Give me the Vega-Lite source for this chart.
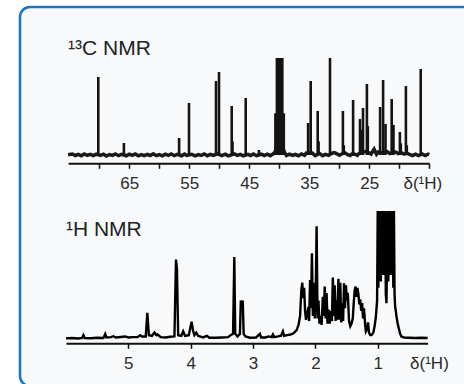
{
  "$schema": "https://vega.github.io/schema/vega-lite/v6.json",
  "autosize": {"type": "none"},
  "width": 455,
  "height": 379,
  "padding": {"left": 20, "top": 7, "right": 0, "bottom": 0},
  "background": "#ffffff",
  "config": {
    "font": "Liberation Sans",
    "view": {"fill": "#f7f9fb", "stroke": "#1a75c6", "strokeWidth": 2.5, "cornerRadius": 10},
    "axis": {
      "grid": false,
      "labelFont": "Liberation Sans",
      "labelFontSize": 17,
      "labelColor": "#2a2a2a",
      "labelBaseline": "alphabetic",
      "labelPadding": 20,
      "labelFlush": false,
      "labelOverlap": false,
      "tickSize": 5,
      "tickWidth": 1.5,
      "tickColor": "#111111",
      "domainColor": "#111111",
      "domainWidth": 2,
      "titleFont": "Liberation Sans",
      "titleFontSize": 17,
      "titleFontWeight": "normal",
      "titleColor": "#2a2a2a",
      "titleAlign": "right",
      "titleBaseline": "alphabetic",
      "titleAngle": 0
    }
  },
  "layer": [
    {
      "encoding": {
        "x": {
          "field": "ppm", "type": "quantitative",
          "scale": {"domain": [15, 75.2], "range": [409.3, 48.1], "nice": false, "zero": false},
          "axis": {
            "orient": "bottom", "offset": -222.7,
            "values": [70, 65, 60, 55, 50, 45, 40, 35, 30, 25, 20, 15],
            "labelExpr": "indexof([65, 55, 45, 35, 25], datum.value) >= 0 ? datum.label : ''",
            "title": "δ(¹H)", "titleX": 421.7, "titleY": 25
          }
        },
        "y": {
          "field": "v", "type": "quantitative",
          "scale": {"domain": [0, 100], "range": [148, 51], "nice": false, "zero": false},
          "axis": null
        }
      },
      "layer": [
        {
          "data": {"values": [
            {"ppm": 75.2, "v": 0.3}, {"ppm": 74.5, "v": 1.0}, {"ppm": 74, "v": -0.5}, {"ppm": 73.5, "v": 0.7},
            {"ppm": 73, "v": -0.8}, {"ppm": 72.5, "v": 1.1}, {"ppm": 72, "v": -0.3}, {"ppm": 71.5, "v": 0.6},
            {"ppm": 71, "v": -0.7}, {"ppm": 70.5, "v": 0.9}, {"ppm": 69.8, "v": -0.5}, {"ppm": 69.3, "v": 0.8},
            {"ppm": 68.8, "v": -1.0}, {"ppm": 68.3, "v": 0.5}, {"ppm": 67.8, "v": -0.4}, {"ppm": 67.3, "v": 1.0},
            {"ppm": 66.8, "v": -0.7}, {"ppm": 66.3, "v": 0.6}, {"ppm": 65.5, "v": -0.8}, {"ppm": 65, "v": 0.8},
            {"ppm": 64.5, "v": -0.4}, {"ppm": 64, "v": 1.1}, {"ppm": 63.5, "v": -0.8}, {"ppm": 63, "v": 0.5},
            {"ppm": 62.5, "v": -0.6}, {"ppm": 62, "v": 0.7}, {"ppm": 61.5, "v": -0.5}, {"ppm": 61, "v": 1.2},
            {"ppm": 60.5, "v": -0.7}, {"ppm": 60, "v": 0.4}, {"ppm": 59.5, "v": -0.9}, {"ppm": 59, "v": 0.8},
            {"ppm": 58.5, "v": -0.4}, {"ppm": 58, "v": 1.0}, {"ppm": 57.5, "v": -0.7}, {"ppm": 57, "v": 0.6},
            {"ppm": 56.3, "v": -0.8}, {"ppm": 55.8, "v": 0.9}, {"ppm": 55.4, "v": -0.5}, {"ppm": 54.6, "v": 0.7},
            {"ppm": 54, "v": -0.8}, {"ppm": 53.5, "v": 0.5}, {"ppm": 53, "v": -0.4}, {"ppm": 52.5, "v": 1.0},
            {"ppm": 52, "v": -0.7}, {"ppm": 51.5, "v": 0.7}, {"ppm": 51, "v": -0.5}, {"ppm": 50.3, "v": 1.1},
            {"ppm": 49.6, "v": -0.6}, {"ppm": 49, "v": 0.8}, {"ppm": 48.5, "v": -0.9}, {"ppm": 47.5, "v": 1.1},
            {"ppm": 47, "v": -0.4}, {"ppm": 46.5, "v": 0.7}, {"ppm": 46, "v": -0.8}, {"ppm": 45.2, "v": 0.6},
            {"ppm": 44.8, "v": -0.5}, {"ppm": 44.3, "v": 1.0}, {"ppm": 43.8, "v": -0.7}, {"ppm": 43, "v": 0.8},
            {"ppm": 42.5, "v": -0.5}, {"ppm": 42, "v": 0.9}, {"ppm": 41.5, "v": -0.7}, {"ppm": 41, "v": 1.2},
            {"ppm": 40.7, "v": 3}, {"ppm": 40.5, "v": 7}, {"ppm": 39.4, "v": 7}, {"ppm": 39.1, "v": 2.5},
            {"ppm": 38.8, "v": -0.6}, {"ppm": 38.3, "v": 0.8}, {"ppm": 37.8, "v": -0.5}, {"ppm": 37.3, "v": 0.7},
            {"ppm": 36.8, "v": -0.8}, {"ppm": 36.3, "v": 1.0}, {"ppm": 35.8, "v": -0.4}, {"ppm": 35.5, "v": 2.0},
            {"ppm": 34.5, "v": 2.0}, {"ppm": 34, "v": -0.6}, {"ppm": 33.3, "v": 1.6}, {"ppm": 32.8, "v": -0.7},
            {"ppm": 32.3, "v": 0.7}, {"ppm": 31.8, "v": -0.4}, {"ppm": 31.2, "v": 1.8}, {"ppm": 30.8, "v": 2.4},
            {"ppm": 30.4, "v": 1.2}, {"ppm": 30, "v": -0.3}, {"ppm": 29.6, "v": 1.0}, {"ppm": 29.1, "v": 2.4},
            {"ppm": 28.6, "v": 0.3}, {"ppm": 28.2, "v": -0.6}, {"ppm": 27.9, "v": 1.0}, {"ppm": 27.4, "v": 0.8},
            {"ppm": 27, "v": -0.4}, {"ppm": 26.8, "v": 1.2}, {"ppm": 26.3, "v": 2.5}, {"ppm": 25.7, "v": 3.5},
            {"ppm": 25.1, "v": 2.5}, {"ppm": 24.7, "v": 1.0}, {"ppm": 24.2, "v": 6}, {"ppm": 23.8, "v": 0.7},
            {"ppm": 23.5, "v": 3.0}, {"ppm": 22.9, "v": 2.0}, {"ppm": 22.5, "v": 2.5}, {"ppm": 22, "v": 3.5},
            {"ppm": 21.6, "v": 1.5}, {"ppm": 21.1, "v": 2.5}, {"ppm": 20.6, "v": 3.0}, {"ppm": 20.2, "v": 1.5},
            {"ppm": 19.7, "v": 2.5}, {"ppm": 19.2, "v": 1.0}, {"ppm": 18.8, "v": 2.0}, {"ppm": 18.3, "v": 0.6},
            {"ppm": 17.8, "v": -0.7}, {"ppm": 17.3, "v": 0.9}, {"ppm": 16.8, "v": -0.5}, {"ppm": 16.2, "v": 1.1},
            {"ppm": 15.7, "v": -0.6}, {"ppm": 15.2, "v": 0.8}, {"ppm": 15, "v": 0.3}
          ]},
          "mark": {"type": "line", "color": "#1a1a1a", "strokeWidth": 3.5, "clip": false}
        },
        {
          "data": {"values": [
            {"ppm": 70.17, "v": 80.4}, {"ppm": 65.9, "v": 12.4}, {"ppm": 56.7, "v": 17.5}, {"ppm": 55.05, "v": 53.6},
            {"ppm": 50.55, "v": 76.3}, {"ppm": 50.05, "v": 85.6}, {"ppm": 47.93, "v": 50.5}, {"ppm": 47.8, "v": 14},
            {"ppm": 45.6, "v": 58.8}, {"ppm": 43.4, "v": 5.2}, {"ppm": 40.65, "v": 43}, {"ppm": 40.4, "v": 100},
            {"ppm": 40.25, "v": 100}, {"ppm": 40.1, "v": 100}, {"ppm": 39.95, "v": 100}, {"ppm": 39.8, "v": 100},
            {"ppm": 39.65, "v": 100}, {"ppm": 39.5, "v": 100}, {"ppm": 39.25, "v": 43}, {"ppm": 35.2, "v": 33},
            {"ppm": 34.77, "v": 76.3}, {"ppm": 33.6, "v": 45.4}, {"ppm": 33.45, "v": 14}, {"ppm": 31.55, "v": 100},
            {"ppm": 29.4, "v": 45.4}, {"ppm": 29.25, "v": 10}, {"ppm": 27.7, "v": 56.7}, {"ppm": 26.55, "v": 37.1},
            {"ppm": 26.3, "v": 26}, {"ppm": 26.05, "v": 48.5}, {"ppm": 25.4, "v": 73.2}, {"ppm": 25.25, "v": 30},
            {"ppm": 23.2, "v": 49.5}, {"ppm": 22.7, "v": 77.3}, {"ppm": 22.3, "v": 32}, {"ppm": 21.27, "v": 57.7},
            {"ppm": 20.97, "v": 31}, {"ppm": 19.9, "v": 23.7}, {"ppm": 19.75, "v": 12}, {"ppm": 18.9, "v": 71.1},
            {"ppm": 18.75, "v": 10}, {"ppm": 16.43, "v": 88.7}
          ]},
          "mark": {"type": "rule", "color": "#141414", "strokeWidth": 2.6, "clip": false},
          "encoding": {"y2": {"datum": 0}}
        },
        {
          "data": {"values": [{"ppm": 75.2, "v": 103.1, "label": "¹³C NMR"}]},
          "mark": {"type": "text", "align": "left", "baseline": "alphabetic", "fontSize": 21, "font": "Liberation Sans", "color": "#222222"},
          "encoding": {"text": {"field": "label"}}
        }
      ]
    },
    {
      "encoding": {
        "x": {
          "field": "ppm", "type": "quantitative",
          "scale": {"domain": [0.2, 6.0], "range": [407.6, 45.95], "nice": false, "zero": false},
          "axis": {
            "orient": "bottom", "offset": -42.7,
            "values": [5, 4, 3, 2, 1],
            "title": "δ(¹H)", "titleX": 428.3, "titleY": 25
          }
        },
        "y": {
          "field": "v", "type": "quantitative",
          "scale": {"domain": [0, 100], "range": [332, 204], "nice": false, "zero": false},
          "axis": null
        }
      },
      "layer": [
        {
          "data": {"values": [
            {"ppm": 6.00, "v": 0.5}, {"ppm": 5.90, "v": 0.8}, {"ppm": 5.80, "v": 0.4}, {"ppm": 5.74, "v": 0.8},
            {"ppm": 5.72, "v": 3}, {"ppm": 5.70, "v": 0.8}, {"ppm": 5.60, "v": 0.6}, {"ppm": 5.50, "v": 1.0},
            {"ppm": 5.40, "v": 0.8}, {"ppm": 5.37, "v": 4}, {"ppm": 5.35, "v": 1.2}, {"ppm": 5.28, "v": 1.5},
            {"ppm": 5.24, "v": 2.2}, {"ppm": 5.20, "v": 1.2}, {"ppm": 5.12, "v": 1.6}, {"ppm": 5.05, "v": 2},
            {"ppm": 5.00, "v": 1.2}, {"ppm": 4.93, "v": 1.5}, {"ppm": 4.85, "v": 1.5}, {"ppm": 4.81, "v": 3},
            {"ppm": 4.78, "v": 2}, {"ppm": 4.72, "v": 2}, {"ppm": 4.695, "v": 20.5}, {"ppm": 4.67, "v": 3},
            {"ppm": 4.62, "v": 2.5}, {"ppm": 4.58, "v": 5}, {"ppm": 4.55, "v": 3}, {"ppm": 4.53, "v": 3.5},
            {"ppm": 4.48, "v": 1.5}, {"ppm": 4.40, "v": 1.2}, {"ppm": 4.33, "v": 1.8}, {"ppm": 4.26, "v": 2},
            {"ppm": 4.235, "v": 62}, {"ppm": 4.22, "v": 55}, {"ppm": 4.20, "v": 3}, {"ppm": 4.15, "v": 2.5},
            {"ppm": 4.12, "v": 6}, {"ppm": 4.09, "v": 2.5}, {"ppm": 4.03, "v": 3}, {"ppm": 3.985, "v": 13.5},
            {"ppm": 3.96, "v": 6}, {"ppm": 3.94, "v": 3}, {"ppm": 3.91, "v": 5}, {"ppm": 3.88, "v": 2.5},
            {"ppm": 3.80, "v": 1.2}, {"ppm": 3.74, "v": 2.5}, {"ppm": 3.70, "v": 1}, {"ppm": 3.60, "v": 1},
            {"ppm": 3.50, "v": 1.2}, {"ppm": 3.40, "v": 1.5}, {"ppm": 3.36, "v": 3}, {"ppm": 3.32, "v": 4},
            {"ppm": 3.30, "v": 64}, {"ppm": 3.285, "v": 4}, {"ppm": 3.25, "v": 2}, {"ppm": 3.21, "v": 4},
            {"ppm": 3.195, "v": 30}, {"ppm": 3.18, "v": 27}, {"ppm": 3.165, "v": 30}, {"ppm": 3.15, "v": 4},
            {"ppm": 3.12, "v": 2}, {"ppm": 3.05, "v": 1}, {"ppm": 2.95, "v": 1.2}, {"ppm": 2.89, "v": 4},
            {"ppm": 2.87, "v": 1.2}, {"ppm": 2.80, "v": 1.2}, {"ppm": 2.75, "v": 2.0}, {"ppm": 2.70, "v": 1.5},
            {"ppm": 2.68, "v": 3.5}, {"ppm": 2.66, "v": 1.5}, {"ppm": 2.60, "v": 2}, {"ppm": 2.55, "v": 2.5},
            {"ppm": 2.52, "v": 6}, {"ppm": 2.50, "v": 2.5}, {"ppm": 2.45, "v": 3}, {"ppm": 2.40, "v": 3.5},
            {"ppm": 2.35, "v": 4.5}, {"ppm": 2.30, "v": 7}, {"ppm": 2.27, "v": 11}, {"ppm": 2.245, "v": 18},
            {"ppm": 2.225, "v": 38}, {"ppm": 2.21, "v": 44}, {"ppm": 2.195, "v": 32}, {"ppm": 2.18, "v": 40},
            {"ppm": 2.165, "v": 22}, {"ppm": 2.15, "v": 15}, {"ppm": 2.13, "v": 20}, {"ppm": 2.11, "v": 25},
            {"ppm": 2.10, "v": 14}, {"ppm": 2.085, "v": 46}, {"ppm": 2.07, "v": 24}, {"ppm": 2.055, "v": 67},
            {"ppm": 2.04, "v": 18}, {"ppm": 2.025, "v": 44}, {"ppm": 2.01, "v": 16}, {"ppm": 1.995, "v": 32},
            {"ppm": 1.98, "v": 88}, {"ppm": 1.965, "v": 16}, {"ppm": 1.95, "v": 30}, {"ppm": 1.935, "v": 12},
            {"ppm": 1.92, "v": 18}, {"ppm": 1.90, "v": 11}, {"ppm": 1.88, "v": 33}, {"ppm": 1.865, "v": 18},
            {"ppm": 1.85, "v": 41}, {"ppm": 1.835, "v": 16}, {"ppm": 1.82, "v": 36}, {"ppm": 1.805, "v": 12},
            {"ppm": 1.79, "v": 23}, {"ppm": 1.77, "v": 12}, {"ppm": 1.75, "v": 22}, {"ppm": 1.735, "v": 14},
            {"ppm": 1.72, "v": 48}, {"ppm": 1.705, "v": 18}, {"ppm": 1.69, "v": 42}, {"ppm": 1.675, "v": 14},
            {"ppm": 1.665, "v": 30}, {"ppm": 1.65, "v": 15}, {"ppm": 1.63, "v": 47}, {"ppm": 1.615, "v": 15},
            {"ppm": 1.60, "v": 44}, {"ppm": 1.585, "v": 13}, {"ppm": 1.57, "v": 28}, {"ppm": 1.555, "v": 14},
            {"ppm": 1.54, "v": 43.5}, {"ppm": 1.525, "v": 24}, {"ppm": 1.51, "v": 42}, {"ppm": 1.495, "v": 30},
            {"ppm": 1.48, "v": 36}, {"ppm": 1.46, "v": 14}, {"ppm": 1.44, "v": 10}, {"ppm": 1.42, "v": 12},
            {"ppm": 1.40, "v": 16}, {"ppm": 1.385, "v": 28}, {"ppm": 1.37, "v": 38}, {"ppm": 1.355, "v": 41},
            {"ppm": 1.34, "v": 33}, {"ppm": 1.325, "v": 40}, {"ppm": 1.31, "v": 35}, {"ppm": 1.295, "v": 27},
            {"ppm": 1.28, "v": 31}, {"ppm": 1.265, "v": 22}, {"ppm": 1.25, "v": 28}, {"ppm": 1.235, "v": 16},
            {"ppm": 1.22, "v": 24}, {"ppm": 1.20, "v": 10}, {"ppm": 1.19, "v": 6}, {"ppm": 1.17, "v": 8},
            {"ppm": 1.155, "v": 13}, {"ppm": 1.14, "v": 5}, {"ppm": 1.12, "v": 3}, {"ppm": 1.10, "v": 3},
            {"ppm": 1.07, "v": 5}, {"ppm": 1.05, "v": 10}, {"ppm": 1.03, "v": 17}, {"ppm": 1.01, "v": 30},
            {"ppm": 1.00, "v": 100}, {"ppm": 0.99, "v": 40}, {"ppm": 0.98, "v": 100}, {"ppm": 0.97, "v": 55},
            {"ppm": 0.96, "v": 100}, {"ppm": 0.95, "v": 45}, {"ppm": 0.94, "v": 100}, {"ppm": 0.93, "v": 60},
            {"ppm": 0.92, "v": 100}, {"ppm": 0.91, "v": 50}, {"ppm": 0.90, "v": 100}, {"ppm": 0.89, "v": 55},
            {"ppm": 0.88, "v": 100}, {"ppm": 0.87, "v": 35}, {"ppm": 0.86, "v": 28}, {"ppm": 0.85, "v": 60},
            {"ppm": 0.84, "v": 100}, {"ppm": 0.83, "v": 45}, {"ppm": 0.82, "v": 100}, {"ppm": 0.81, "v": 60},
            {"ppm": 0.80, "v": 100}, {"ppm": 0.79, "v": 50}, {"ppm": 0.78, "v": 100}, {"ppm": 0.77, "v": 60},
            {"ppm": 0.76, "v": 100}, {"ppm": 0.75, "v": 40}, {"ppm": 0.74, "v": 100}, {"ppm": 0.73, "v": 35},
            {"ppm": 0.72, "v": 25}, {"ppm": 0.71, "v": 22}, {"ppm": 0.70, "v": 18}, {"ppm": 0.68, "v": 12},
            {"ppm": 0.66, "v": 8}, {"ppm": 0.64, "v": 4}, {"ppm": 0.62, "v": 2}, {"ppm": 0.58, "v": 1.2},
            {"ppm": 0.50, "v": 1}, {"ppm": 0.40, "v": 0.8}, {"ppm": 0.30, "v": 1}, {"ppm": 0.20, "v": 0.8}
          ]},
          "mark": {"type": "line", "color": "#000000", "strokeWidth": 2.4, "clip": false}
        },
        {
          "data": {"values": [{"ppm": 6.0, "v": 80.5, "label": "¹H NMR"}]},
          "mark": {"type": "text", "align": "left", "baseline": "alphabetic", "fontSize": 21, "font": "Liberation Sans", "color": "#222222"},
          "encoding": {"text": {"field": "label"}}
        }
      ]
    }
  ],
  "resolve": {
    "scale": {"x": "independent", "y": "independent"},
    "axis": {"x": "independent", "y": "independent"}
  }
}
